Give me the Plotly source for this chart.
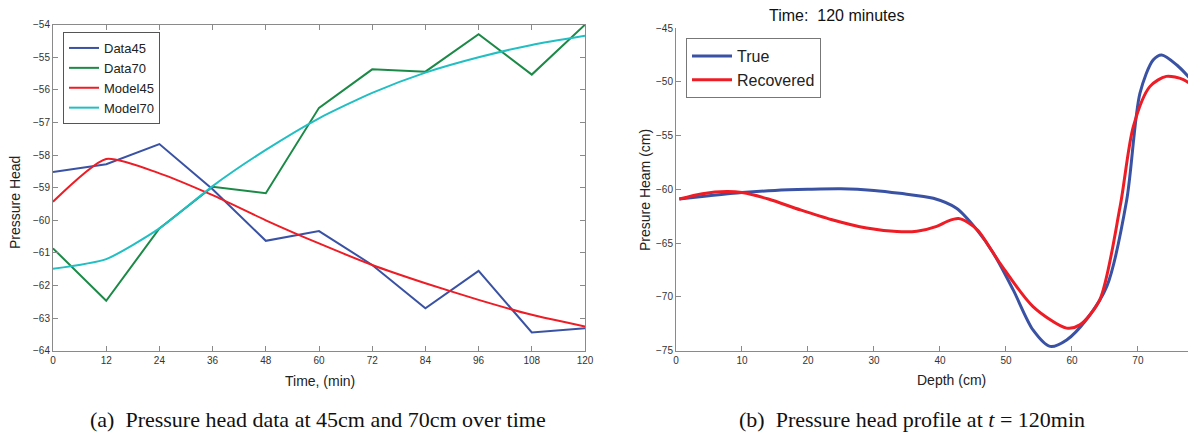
import plotly.graph_objects as go

# ---- Left panel data (time in minutes) ----
time_min = [0, 12, 24, 36, 48, 60, 72, 84, 96, 108, 120]
data45 = [-58.52, -58.28, -57.66, -59.05, -60.63, -60.33, -61.37, -62.70, -61.55, -63.44, -63.31]
data70 = [-60.86, -62.47, -60.25, -58.97, -59.17, -56.55, -55.37, -55.44, -54.29, -55.53, -54.00]
model45 = [-59.43, -58.12, -58.56, -59.23, -60.00, -60.71, -61.37, -61.93, -62.44, -62.90, -63.26]
model70 = [-61.49, -61.19, -60.25, -58.95, -57.84, -56.87, -56.09, -55.47, -55.00, -54.62, -54.34]

# ---- Right panel data (depth in cm) ----
depth_true = [0.5, 5, 10, 15, 20, 25, 30, 33.9, 39.0, 42.5, 45.6, 48.1, 51.1, 54.1, 56.7, 59.2,
              62.2, 65.3, 68.3, 70.3, 72.3, 73.6, 75.9, 78.8]
p_true = [-60.9, -60.6, -60.3, -60.1, -60.0, -59.95, -60.1, -60.37, -60.83, -61.76, -63.77,
          -65.94, -69.35, -73.07, -74.6, -74.0, -72.1, -69.0, -61.0, -51.07, -47.97, -47.5,
          -48.44, -50.3]
depth_rec = [0.5, 4, 7.7, 10, 14, 18.8, 23.5, 28.9, 33.5, 36.5, 39.5, 41.2, 42.8, 44.3, 45.8,
             49.1, 54.1, 59.2, 61.2, 64.2, 67.3, 69.3, 71.8, 74.3, 76.9, 78.8]
p_rec = [-60.9, -60.4, -60.2, -60.3, -60.9, -61.9, -62.8, -63.6, -63.93, -63.9, -63.45, -62.95,
         -62.72, -63.1, -63.85, -66.87, -70.9, -72.9, -72.6, -70.3, -61.6, -54.17, -50.45,
         -49.5, -49.8, -50.6]

BLUE = "#3a52a4"
GREEN = "#1b8a47"
RED = "#ee1c25"
CYAN = "#21bfc3"
AXC = "#8a8a8a"
TXT = "#333333"
FONT = "Liberation Sans"

fig = go.Figure()
lw = 2
fig.add_trace(go.Scatter(x=time_min, y=data45, name="Data45", mode="lines", line=dict(color=BLUE, width=lw), xaxis="x", yaxis="y", legend="legend"))
fig.add_trace(go.Scatter(x=time_min, y=data70, name="Data70", mode="lines", line=dict(color=GREEN, width=lw), xaxis="x", yaxis="y", legend="legend"))
fig.add_trace(go.Scatter(x=time_min, y=model45, name="Model45", mode="lines", line=dict(color=RED, width=lw, shape="spline", smoothing=0.6), xaxis="x", yaxis="y", legend="legend"))
fig.add_trace(go.Scatter(x=time_min, y=model70, name="Model70", mode="lines", line=dict(color=CYAN, width=lw, shape="spline", smoothing=0.6), xaxis="x", yaxis="y", legend="legend"))

fig.add_trace(go.Scatter(x=depth_true, y=p_true, name="True", mode="lines", line=dict(color=BLUE, width=3, shape="spline", smoothing=0.8), xaxis="x2", yaxis="y2", legend="legend2"))
fig.add_trace(go.Scatter(x=depth_rec, y=p_rec, name="Recovered", mode="lines", line=dict(color=RED, width=3, shape="spline", smoothing=0.8), xaxis="x2", yaxis="y2", legend="legend2"))

# The page body has an 8px margin, so the figure is 8px smaller and
# positions (given in page pixels) are shifted by 8.
OFF = 8
W, H = 1196 - OFF, 433 - OFF
def px(x):
    return (x - OFF) / W
def py(y):
    return 1 - (y - OFF) / H

tickfont = dict(family=FONT, size=10, color=TXT)
common = dict(showline=True, linecolor=AXC, linewidth=1, ticks="inside", ticklen=5,
              tickcolor=AXC, showgrid=False, zeroline=False, tickfont=tickfont, automargin=False)

def ann(text, x, y, size, angle=0, family=FONT, color="#222"):
    return dict(text=text, x=px(x), y=py(y), xref="paper", yref="paper", showarrow=False,
                textangle=angle, font=dict(family=family, size=size, color=color),
                xanchor="center", yanchor="middle")

fig.update_layout(
    width=W, height=H,
    margin=dict(l=0, r=0, t=0, b=0),
    paper_bgcolor="white", plot_bgcolor="white",
    font=dict(family=FONT, color="#222"),
    xaxis=dict(domain=[px(53), px(585)], range=[0, 120], tickvals=time_min, mirror="ticks",
               anchor="y", **common),
    yaxis=dict(domain=[py(350.7), py(24.7)], range=[-64, -54], dtick=1, mirror="ticks",
               anchor="x", **common),
    xaxis2=dict(domain=[px(676), 1.0], range=[0, 78.8], tickvals=[0, 10, 20, 30, 40, 50, 60, 70],
                mirror=False, anchor="y2", **common),
    yaxis2=dict(domain=[py(350.7), py(28)], range=[-75, -45], dtick=5, mirror=False,
                anchor="x2", **common),
    legend=dict(x=px(63), y=py(32), xanchor="left", yanchor="top",
                bordercolor="#555", borderwidth=1, bgcolor="white",
                font=dict(family=FONT, size=13, color="#222"), tracegroupgap=0,
                itemwidth=30),
    legend2=dict(x=px(686), y=py(38), xanchor="left", yanchor="top",
                 bordercolor="#777", borderwidth=1, bgcolor="white",
                 font=dict(family=FONT, size=16, color="#222"), tracegroupgap=0,
                 itemwidth=40),
    showlegend=True,
    annotations=[
        ann("Pressure Head", 15, 203, 14, angle=-90),
        ann("Time, (min)", 320, 381, 14),
        ann("Presure Heam (cm)", 645, 190, 14, angle=-90),
        ann("Depth (cm)", 951, 380, 14),
        ann("Time:  120 minutes", 836, 15, 16, color="#111"),
        ann("(a)  Pressure head data at 45cm and 70cm over time", 318, 419, 22,
            family="Liberation Serif", color="#111"),
        ann("(b)  Pressure head profile at <i>t</i> = 120min", 912, 419, 22,
            family="Liberation Serif", color="#111"),
    ],
)

fig.write_html("out.html")
